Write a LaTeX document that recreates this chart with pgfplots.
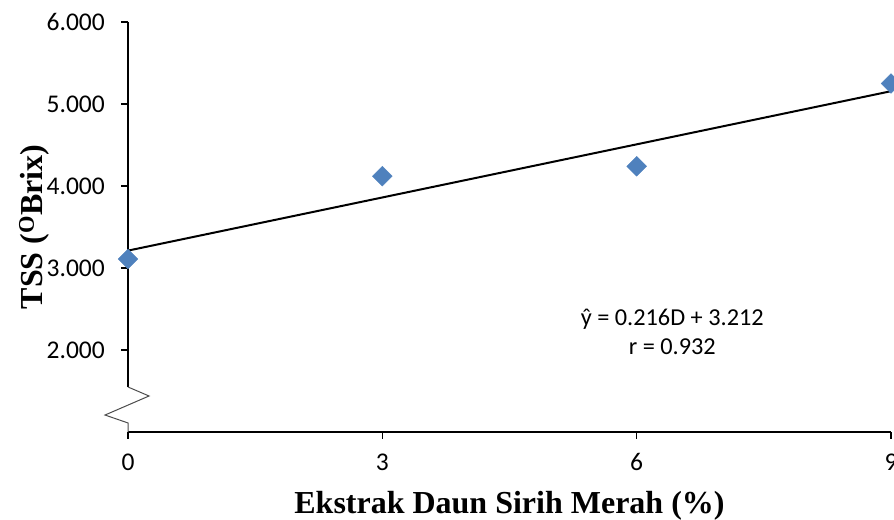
\documentclass[border=0pt]{standalone}
\usepackage{fontspec}
\setmainfont{Carlito}
\newfontfamily\timesfont{Liberation Serif}
\usepackage{pgfplots}
\pgfplotsset{compat=1.18}
\definecolor{markblue}{HTML}{4F81BD}
\begin{document}
\begin{tikzpicture}
\begin{axis}[
  scale only axis,
  width=763pt, height=410pt,
  xmin=0, xmax=9, ymin=1, ymax=6,
  clip=false,
  axis lines=left,
  x axis line style={-, line width=1.2pt},
  y axis line style={draw=none},
  xtick={0,3,6,9},
  ytick={2,3,4,5,6},
  tick align=outside,
  major tick length=7pt,
  tick style={black, line width=1.2pt},
  /pgf/number format/assume math mode=true,
  yticklabel={\pgfmathprintnumber[fixed, fixed zerofill, precision=3]{\tick}},
  ticklabel style={font=\fontsize{25.5}{25.5}\selectfont},
  xticklabel style={anchor=base, yshift=-31pt},
  yticklabel style={anchor=east, inner sep=0pt, xshift=-16pt},
  xlabel={Ekstrak Daun Sirih Merah (\%)},
  ylabel={TSS (\textsuperscript{O}Brix)},
  label style={font=\timesfont\bfseries\fontsize{32}{32}\selectfont},
  xlabel style={at={(axis description cs:0.5,-0.1976)}, anchor=base},
  ylabel style={at={(axis description cs:-0.1114,0.5)}, anchor=base, rotate=0},
]
% linear fit y = 0.216 D + 3.212
\addplot[black, line width=2pt] coordinates {(0,3.212) (9,5.156)};
% measured TSS
\addplot[only marks, mark=square*, mark size=7pt,
  mark options={rotate=45, fill=markblue, draw=markblue}]
  coordinates {(0,3.11) (3,4.12) (6,4.24) (9,5.25)};
% y axis with a break near the bottom
\draw[black, line width=1.2pt] (axis cs:0,6) -- (axis cs:0,1.549);
\draw[black!70, line width=1pt] (axis cs:0,1.549) -- (axis cs:0.248,1.439)
  -- (axis cs:-0.271,1.207) -- (axis cs:0,1.110) -- (axis cs:0,1);
\node[align=center, font=\fontsize{24.3}{29}\selectfont] at (axis cs:6.42,2.22)
  {ŷ = 0.216D + 3.212\\ r = 0.932};
\coordinate (O) at (rel axis cs:0,0);
\coordinate (TR) at (rel axis cs:1,1);
\end{axis}
\pgfresetboundingbox
\path[use as bounding box] ([xshift=-128pt,yshift=-88pt]O) rectangle ([xshift=3pt,yshift=22pt]TR);
\end{tikzpicture}
\end{document}
